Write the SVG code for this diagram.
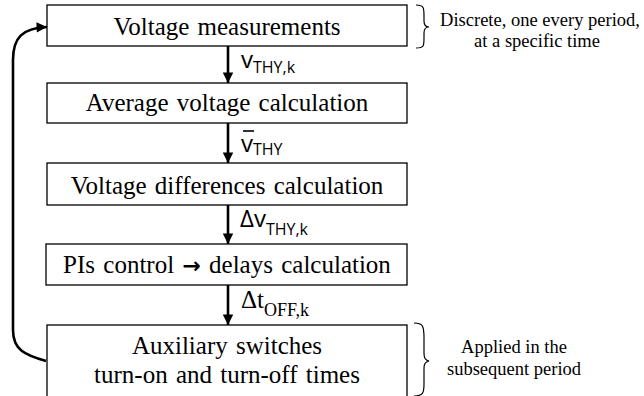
<svg xmlns="http://www.w3.org/2000/svg" width="644" height="396" viewBox="0 0 644 396">
<style>
.box{fill:#fff;stroke:#000;stroke-width:1.3}
.t{font-family:"Liberation Serif","Tinos","Times New Roman","DejaVu Serif",serif;font-size:25px;word-spacing:2px;text-anchor:middle;fill:#000}
.n{font-family:"Liberation Serif","Tinos","Times New Roman","DejaVu Serif",serif;font-size:18.5px;text-anchor:middle;fill:#000}
.ts{font-family:"Liberation Serif","Tinos","Times New Roman","DejaVu Serif",serif;fill:#000}
.s{font-family:"Open Sans","Liberation Sans",sans-serif;fill:#000}
.ar{font-family:"DejaVu Sans",sans-serif;font-weight:bold;font-size:22px}
.c{fill:none;stroke:#000;stroke-width:2.6}
.br{fill:none;stroke:#000;stroke-width:1.2}
</style>
<defs>
<marker id="ah" viewBox="0 0 10 10" refX="10" refY="5" markerWidth="4.2" markerHeight="4" orient="auto" markerUnits="strokeWidth">
<path d="M0,0 L10,5 L0,10 z" fill="#000"/>
</marker>
</defs>
<g id="connectors">
<line class="c" x1="228" y1="46" x2="228" y2="83" marker-end="url(#ah)"/>
<line class="c" x1="228" y1="123" x2="228" y2="163" marker-end="url(#ah)"/>
<line class="c" x1="228" y1="205" x2="228" y2="244" marker-end="url(#ah)"/>
<line class="c" x1="228" y1="285" x2="228" y2="325" marker-end="url(#ah)"/>
<path class="c" d="M46,361 C25,355 13,350 13,330 L13,60 C13,38 22,28 47,27" marker-end="url(#ah)"/>
</g>
<g id="n1">
<rect class="box" x="47" y="5" width="360" height="41"/>
<text class="t" x="227" y="35">Voltage measurements</text>
</g>
<g id="n2">
<rect class="box" x="47" y="83" width="360" height="40"/>
<text class="t" x="227" y="111">Average voltage calculation</text>
</g>
<g id="n3">
<rect class="box" x="47" y="163" width="360" height="42"/>
<text class="t" x="227" y="194">Voltage differences calculation</text>
</g>
<g id="n4">
<rect class="box" x="46" y="244" width="361" height="41"/>
<text class="t" x="227" y="273">PIs control <tspan class="ar">→</tspan> delays calculation</text>
</g>
<g id="n5">
<rect class="box" x="47" y="325" width="360" height="75"/>
<text class="t" x="227" y="354">Auxiliary switches</text>
<text class="t" x="227" y="383">turn-on and turn-off times</text>
</g>
<g id="labels">
<text class="s" x="241" y="68" font-size="24">v<tspan font-size="16" dy="5">THY,k</tspan></text>
<text class="s" x="241" y="152" font-size="24">v<tspan font-size="16" dy="3">THY</tspan></text>
<line x1="243" y1="131" x2="254" y2="131" stroke="#000" stroke-width="1.6"/>
<text class="s" x="240" y="227" font-size="24">Δv<tspan font-size="16" dy="8">THY,k</tspan></text>
<text class="ts" x="241" y="308" font-size="25">Δt<tspan font-size="18" dy="8">OFF,k</tspan></text>
</g>
<g id="notes">
<path class="br" d="M416,5 C424,5 424,8 424,16 L424,21 C424,25 426,27 429,27 C426,27 424,29 424,33 L424,38 C424,46 424,48 416,48"/>
<text class="n" x="540" y="26">Discrete, one every period,</text>
<text class="n" x="537" y="47">at a specific time</text>
<path class="br" d="M414,323 C423,323 424,326 424,338 L424,353 C424,358 425,360 429,361 C425,362 424,364 424,369 L424,384 C424,393 423,396 414,396"/>
<text class="n" x="514" y="353">Applied in the</text>
<text class="n" x="514" y="375">subsequent period</text>
</g>
</svg>
